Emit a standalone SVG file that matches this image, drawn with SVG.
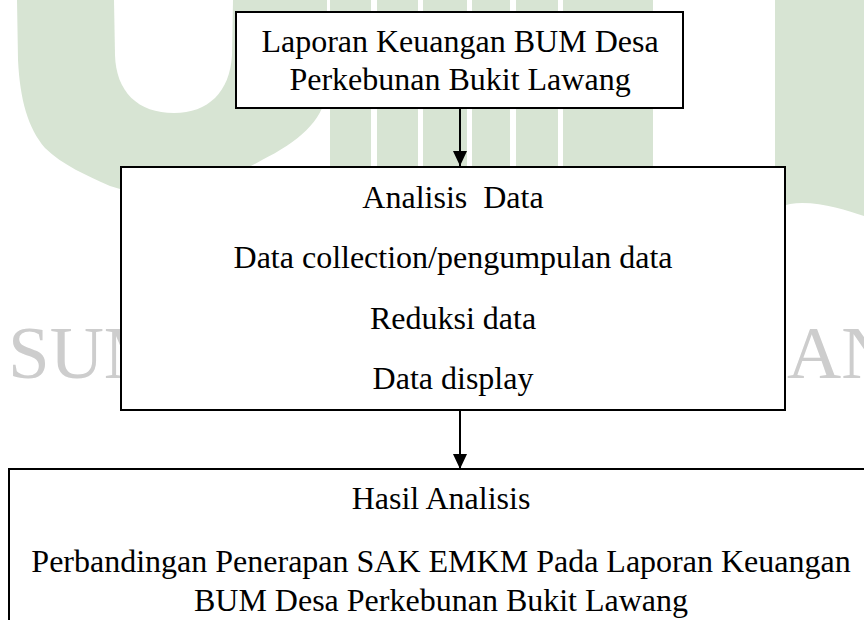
<svg xmlns="http://www.w3.org/2000/svg" width="864" height="620" viewBox="0 0 864 620">
  <style>
    .wm { fill: #d7e4d3; }
    .wm-cut { fill: #ffffff; }
    .wm-text { font-family: "Liberation Serif", "Times New Roman", serif; font-size: 75px; fill: #cdcdcd; }
    .box { fill: #ffffff; stroke: #000000; stroke-width: 2; }
    .label { font-family: "Liberation Serif", "Times New Roman", serif; font-size: 32px; fill: #000000; text-anchor: middle; }
    .link { stroke: #000000; stroke-width: 2; fill: none; }
  </style>
  <defs>
    <marker id="arrow" viewBox="0 -7 15 14" refX="15" refY="0" markerWidth="15" markerHeight="14" markerUnits="userSpaceOnUse" orient="auto">
      <path d="M0,-7 L15,0 L0,7 Z" fill="#000000"/>
    </marker>
  </defs>

  <rect width="864" height="620" fill="#ffffff"/>

  <!-- background watermark -->
  <g id="watermark">
    <path class="wm" d="M17,0 L327,0 L327,92 C 322,122 298,142 262,160 C 230,178 190,200 150,198 L110,186 C 88,176 62,165 45,148 C 28,128 20,100 18,60 Z"/>
    <path class="wm-cut" d="M114,0 L233,0 L232,55 C 230,92 208,113 174,113 C 138,113 116,92 115,55 Z"/>
    <rect class="wm" x="330" y="0" width="323" height="170"/>
    <rect class="wm-cut" x="371" y="0" width="6" height="170"/>
    <rect class="wm-cut" x="418" y="0" width="5" height="170"/>
    <rect class="wm-cut" x="467" y="0" width="5" height="170"/>
    <rect class="wm-cut" x="510" y="0" width="6" height="170"/>
    <rect class="wm-cut" x="558" y="0" width="5" height="170"/>
    <path class="wm" d="M775,0 L864,0 L864,216 C 845,210 815,200 790,204 L775,208 Z"/>
    <text class="wm-text" x="8" y="378">SUM</text>
    <text class="wm-text" x="787" y="378">AN</text>
  </g>

  <!-- connectors -->
  <g id="connectors">
    <line class="link" x1="460" y1="108" x2="460" y2="166" marker-end="url(#arrow)"/>
    <line class="link" x1="460" y1="410" x2="460" y2="469" marker-end="url(#arrow)"/>
  </g>

  <g id="laporan">
    <rect class="box" x="236" y="12" width="447" height="96"/>
    <text class="label" x="460" y="52">Laporan Keuangan BUM Desa</text>
    <text class="label" x="460" y="90">Perkebunan Bukit Lawang</text>
  </g>

  <g id="analisis">
    <rect class="box" x="121" y="167" width="664" height="243"/>
    <text class="label" x="453" y="208" xml:space="preserve">Analisis  Data</text>
    <text class="label" x="453" y="268">Data collection/pengumpulan data</text>
    <text class="label" x="453" y="329">Reduksi data</text>
    <text class="label" x="453" y="389">Data display</text>
  </g>

  <g id="hasil">
    <rect class="box" x="9" y="469" width="880" height="200"/>
    <text class="label" x="441" y="509">Hasil Analisis</text>
    <text class="label" x="441" y="572">Perbandingan Penerapan SAK EMKM Pada Laporan Keuangan</text>
    <text class="label" x="441" y="611">BUM Desa Perkebunan Bukit Lawang</text>
  </g>
</svg>
